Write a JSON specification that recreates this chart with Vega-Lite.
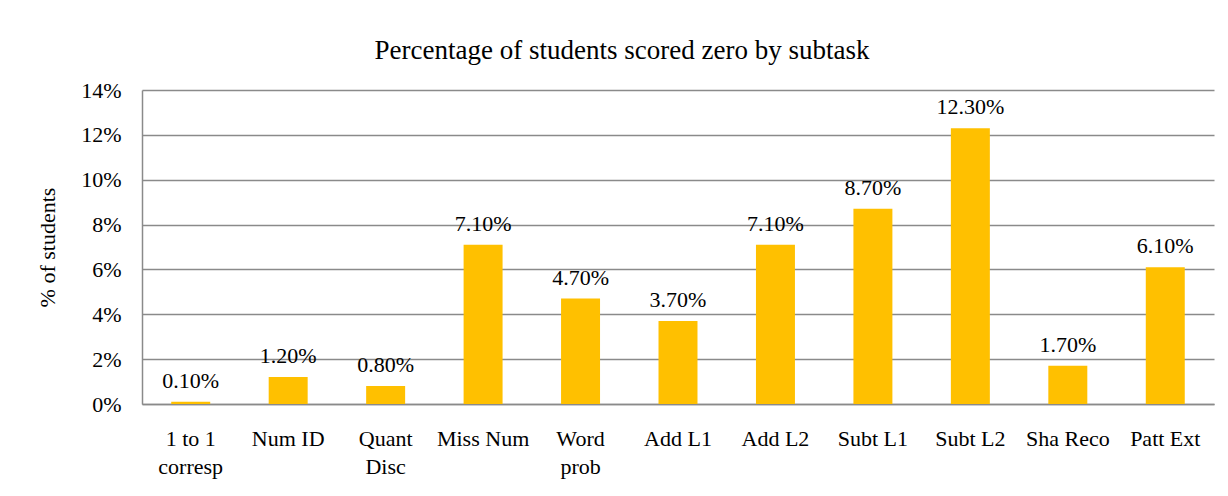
{
  "$schema": "https://vega.github.io/schema/vega-lite/v6.json",
  "autosize": {"type": "none"},
  "padding": {"left": 142, "top": 90, "right": 14, "bottom": 92},
  "width": 1072,
  "height": 314,
  "background": "white",
  "title": {
    "text": "Percentage of students scored zero by subtask",
    "font": "Liberation Serif",
    "fontSize": 27,
    "fontWeight": "normal",
    "color": "black",
    "anchor": "middle",
    "baseline": "alphabetic",
    "dx": -56,
    "offset": -7
  },
  "data": {
    "values": [
      {"subtask": "1 to 1 corresp", "pct": 0.001},
      {"subtask": "Num ID", "pct": 0.012},
      {"subtask": "Quant Disc", "pct": 0.008},
      {"subtask": "Miss Num", "pct": 0.071},
      {"subtask": "Word prob", "pct": 0.047},
      {"subtask": "Add L1", "pct": 0.037},
      {"subtask": "Add L2", "pct": 0.071},
      {"subtask": "Subt L1", "pct": 0.087},
      {"subtask": "Subt L2", "pct": 0.123},
      {"subtask": "Sha Reco", "pct": 0.017},
      {"subtask": "Patt Ext", "pct": 0.061}
    ]
  },
  "encoding": {
    "x": {
      "field": "subtask",
      "type": "nominal",
      "sort": null,
      "scale": {"paddingInner": 0.6, "paddingOuter": 0.3},
      "axis": {
        "title": null,
        "labelAngle": 0,
        "ticks": false,
        "domainColor": "#8a8a8a",
        "domainWidth": 1.5,
        "labelFont": "Liberation Serif",
        "labelFontSize": 22,
        "labelColor": "black",
        "labelPadding": 24,
        "labelBaseline": "top",
        "labelLineHeight": 28,
        "labelExpr": "datum.value == '1 to 1 corresp' ? ['1 to 1', 'corresp'] : datum.value == 'Quant Disc' ? ['Quant', 'Disc'] : datum.value == 'Word prob' ? ['Word', 'prob'] : datum.value"
      }
    },
    "y": {
      "field": "pct",
      "type": "quantitative",
      "scale": {"domain": [0, 0.14], "nice": false},
      "axis": {
        "title": "% of students",
        "titleFont": "Liberation Serif",
        "titleFontSize": 22,
        "titleFontWeight": "normal",
        "titleColor": "black",
        "titlePadding": 21,
        "format": ".0%",
        "values": [0, 0.02, 0.04, 0.06, 0.08, 0.1, 0.12, 0.14],
        "ticks": false,
        "labelPadding": 21,
        "labelFont": "Liberation Serif",
        "labelFontSize": 22,
        "labelColor": "black",
        "domainColor": "#8a8a8a",
        "domainWidth": 1.5,
        "gridColor": "#8a8a8a",
        "gridWidth": 1.5
      }
    }
  },
  "layer": [
    {"mark": {"type": "bar", "color": "#FFC000"}},
    {
      "mark": {
        "type": "text",
        "font": "Liberation Serif",
        "fontSize": 22,
        "color": "black",
        "baseline": "alphabetic",
        "dy": -14
      },
      "encoding": {
        "text": {"field": "pct", "type": "quantitative", "format": ".2%"}
      }
    }
  ],
  "config": {"view": {"stroke": null}}
}
